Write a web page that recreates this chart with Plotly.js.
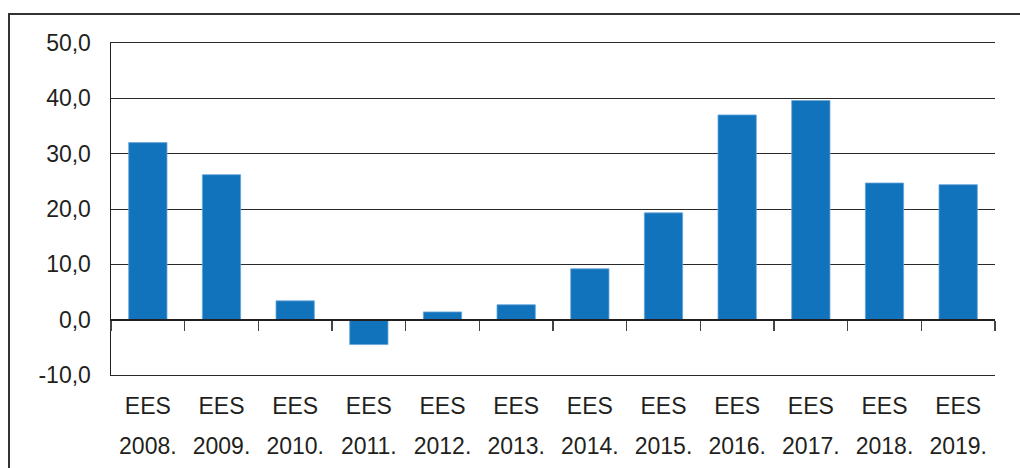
<!DOCTYPE html>
<html>
<head>
<meta charset="utf-8">
<script src="https://cdn.plot.ly/plotly-3.0.1.min.js"></script>
<style>
  html, body { margin: 0; padding: 0; background: #fff; }
  #wrap { position: relative; width: 1020px; height: 468px; overflow: hidden; }
  #frame { position: absolute; left: 8px; top: 13px; width: 1030px; height: 480px;
           border-left: 2px solid #333; border-top: 2px solid #333; box-sizing: border-box; pointer-events: none; }
  #chart { position: absolute; left: 0; top: 0; width: 1020px; height: 468px; }
</style>
</head>
<body>
<div id="wrap">
  <div id="chart"></div>
  <div id="frame"></div>
</div>
<script>
const categories = ["EES 2008.", "EES 2009.", "EES 2010.", "EES 2011.", "EES 2012.", "EES 2013.",
                    "EES 2014.", "EES 2015.", "EES 2016.", "EES 2017.", "EES 2018.", "EES 2019."];
const topLabels = ["EES", "EES", "EES", "EES", "EES", "EES", "EES", "EES", "EES", "EES", "EES", "EES"];
const yearLabels = ["2008.", "2009.", "2010.", "2011.", "2012.", "2013.",
                    "2014.", "2015.", "2016.", "2017.", "2018.", "2019."];
const values = [32.0, 26.2, 3.4, -4.5, 1.4, 2.7, 9.2, 19.3, 37.0, 39.6, 24.7, 24.4];
const yTicks = [-10, 0, 10, 20, 30, 40, 50];
const yTickText = yTicks.map(v => v.toFixed(1).replace(".", ","));

const font = { family: "Liberation Sans, Arial, sans-serif", size: 23, color: "#231f20" };
const xRange = [-0.5, categories.length - 0.5];

const traces = [
  { type: "bar", x: categories, y: values, xaxis: "x", yaxis: "y",
    marker: { color: "#1173bb", line: { color: "#6aa6da", width: 0.8 } },
    hoverinfo: "x+y" },
  { type: "scatter", mode: "none", x: categories, y: values.map(() => 0),
    xaxis: "x2", yaxis: "y", showlegend: false, hoverinfo: "skip" },
  { type: "scatter", mode: "none", x: categories, y: values.map(() => 0),
    xaxis: "x3", yaxis: "y", showlegend: false, hoverinfo: "skip" }
];

const layout = {
  width: 1020, height: 468,
  margin: { l: 111, r: 25, t: 43, b: 93 },
  paper_bgcolor: "rgba(0,0,0,0)", plot_bgcolor: "#fff",
  separators: ", ",
  font: font,
  showlegend: false,
  bargap: 0.48,
  xaxis: {
    type: "category", range: xRange, fixedrange: true,
    tickmode: "array", tickvals: categories, ticktext: yearLabels,
    showline: true, mirror: true, linecolor: "#2a2a2a", linewidth: 1.2,
    showgrid: false, zeroline: false, ticks: "",
    ticklabelstandoff: 50, tickfont: font
  },
  xaxis2: {
    type: "category", range: xRange, overlaying: "x", anchor: "free", position: 1 / 6,
    showline: true, linecolor: "#231f20", linewidth: 2,
    ticks: "outside", tickson: "boundaries", ticklen: 10, tickwidth: 1.5, tickcolor: "#444",
    showticklabels: false, showgrid: false, zeroline: false
  },
  xaxis3: {
    type: "category", range: xRange, overlaying: "x", anchor: "free", position: 0,
    tickmode: "array", tickvals: categories, ticktext: topLabels,
    showline: false, ticks: "", showgrid: false, zeroline: false,
    ticklabelstandoff: 15, tickfont: font
  },
  yaxis: {
    range: [-10, 50], fixedrange: true,
    tickmode: "array", tickvals: yTicks, ticktext: yTickText,
    showgrid: true, gridcolor: "#2a2a2a", gridwidth: 1,
    zeroline: false,
    showline: true, linecolor: "#231f20", linewidth: 1.5,
    ticks: "", ticklabelstandoff: 14, tickfont: font
  }
};

Plotly.newPlot("chart", traces, layout, { displayModeBar: false, staticPlot: true });
</script>
</body>
</html>
